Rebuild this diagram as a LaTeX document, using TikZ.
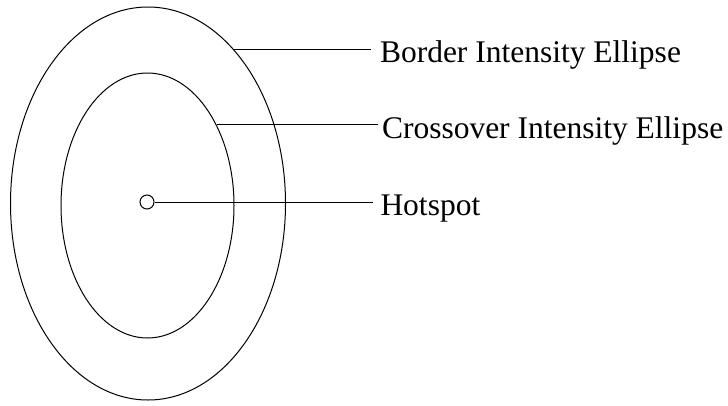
\documentclass[tikz,border=0pt]{standalone}
\usepackage{fontspec}
\setmainfont{Liberation Serif}
\usetikzlibrary{shapes.geometric}
\begin{document}
\begin{tikzpicture}[x=1pt,y=-1pt,line width=1pt,
  ring/.style={draw,ellipse,inner sep=0pt},
  lbl/.style={anchor=base west,inner sep=0pt,font=\fontsize{31.5}{36}\selectfont},
  leader/.style={draw,line width=1pt}]
\useasboundingbox (0,0) rectangle (728,405);
\node[ring,minimum width=275pt,minimum height=393pt] (outer) at (148,203.5) {};
\node[ring,minimum width=173pt,minimum height=265pt] (inner) at (147.5,205.5) {};
\node[draw,circle,minimum size=14pt,inner sep=0pt] (hs) at (147,202) {};
\node[lbl] (bl) at (379.5,62.5) {Border Intensity Ellipse};
\node[lbl] (cl) at (381.5,138.5) {Crossover Intensity Ellipse};
\node[lbl] (hl) at (380,215) {Hotspot};
\coordinate (b0) at (233.5,49);
\coordinate (c0) at (216.5,124.5);
\coordinate (b1) at ([xshift=-9pt]bl.base west |- b0);
\coordinate (c1) at ([xshift=-4pt]cl.base west |- c0);
\coordinate (h1) at ([xshift=-7.5pt]hl.base west |- hs.east);
\draw[leader] (b0) -- (b1);
\draw[leader] (c0) -- (c1);
\draw[leader] (hs.east) -- (h1);
\end{tikzpicture}
\end{document}
